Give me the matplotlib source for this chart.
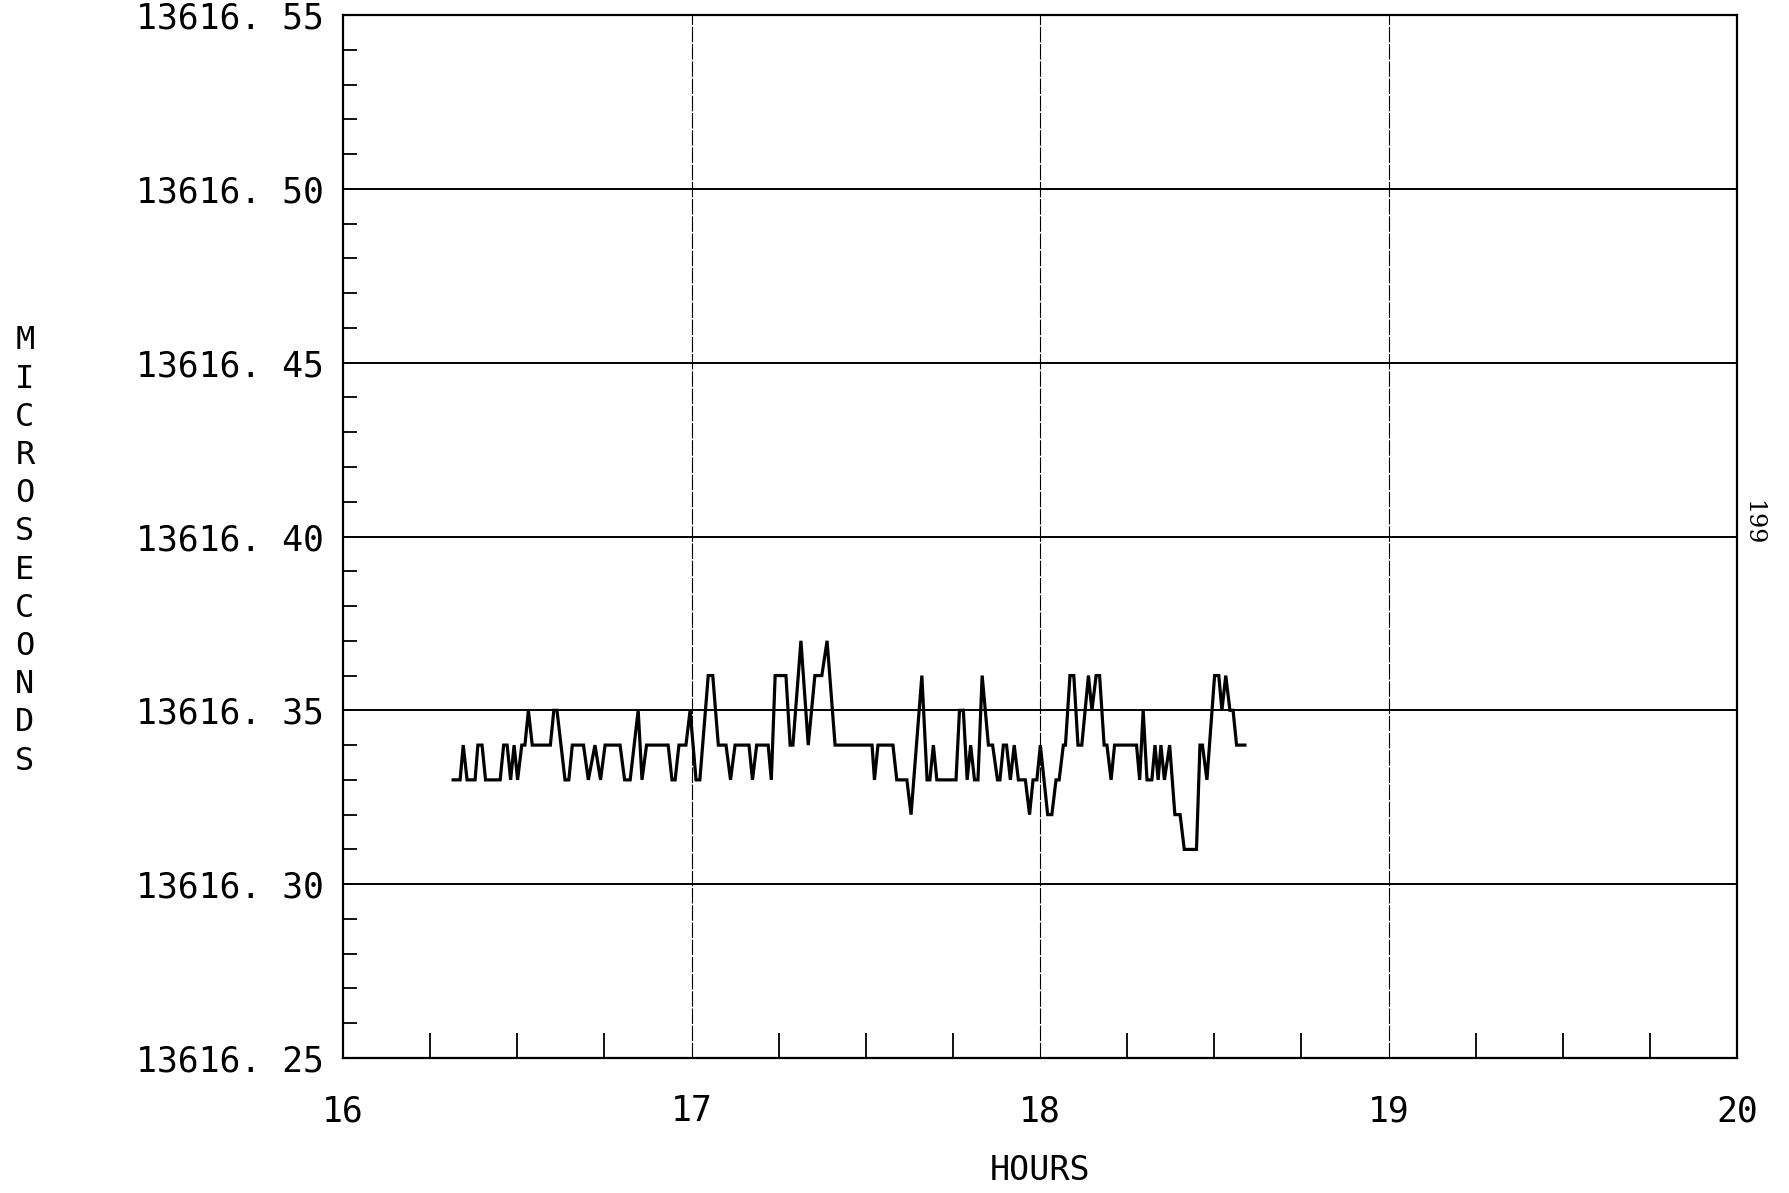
import numpy as np
import matplotlib
matplotlib.use("Agg")
from matplotlib import pyplot as plt
from matplotlib.ticker import MultipleLocator

# traced vertices of the record (hours, microseconds)
hours = [16.316, 16.336, 16.345, 16.356, 16.379, 16.387, 16.399, 16.409, 16.451, 16.461,
         16.471, 16.481, 16.491, 16.501, 16.513, 16.522, 16.532, 16.543, 16.595, 16.605,
         16.614, 16.637, 16.648, 16.658, 16.690, 16.704, 16.723, 16.739, 16.752, 16.795,
         16.808, 16.824, 16.847, 16.858, 16.871, 16.933, 16.944, 16.953, 16.964, 16.984,
         16.996, 17.013, 17.024, 17.048, 17.061, 17.077, 17.099, 17.112, 17.125, 17.165,
         17.175, 17.187, 17.220, 17.229, 17.240, 17.271, 17.283, 17.291, 17.314, 17.335,
         17.354, 17.374, 17.389, 17.412, 17.518, 17.525, 17.535, 17.578, 17.589, 17.618,
         17.630, 17.661, 17.676, 17.684, 17.694, 17.704, 17.759, 17.769, 17.780, 17.791,
         17.801, 17.812, 17.822, 17.834, 17.852, 17.864, 17.878, 17.885, 17.895, 17.904,
         17.915, 17.926, 17.938, 17.958, 17.970, 17.980, 17.991, 18.001, 18.022, 18.034,
         18.046, 18.055, 18.067, 18.073, 18.086, 18.097, 18.109, 18.120, 18.139, 18.149,
         18.161, 18.171, 18.184, 18.192, 18.204, 18.214, 18.277, 18.286, 18.296, 18.307,
         18.321, 18.330, 18.339, 18.347, 18.357, 18.372, 18.387, 18.402, 18.414, 18.449,
         18.459, 18.466, 18.479, 18.501, 18.513, 18.522, 18.533, 18.545, 18.554, 18.564,
         18.588]

micros = [13616.33, 13616.33, 13616.34, 13616.33, 13616.33, 13616.34, 13616.34, 13616.33, 13616.33, 13616.34,
          13616.34, 13616.33, 13616.34, 13616.33, 13616.34, 13616.34, 13616.35, 13616.34, 13616.34, 13616.35,
          13616.35, 13616.33, 13616.33, 13616.34, 13616.34, 13616.33, 13616.34, 13616.33, 13616.34, 13616.34,
          13616.33, 13616.33, 13616.35, 13616.33, 13616.34, 13616.34, 13616.33, 13616.33, 13616.34, 13616.34,
          13616.35, 13616.33, 13616.33, 13616.36, 13616.36, 13616.34, 13616.34, 13616.33, 13616.34, 13616.34,
          13616.33, 13616.34, 13616.34, 13616.33, 13616.36, 13616.36, 13616.34, 13616.34, 13616.37, 13616.34,
          13616.36, 13616.36, 13616.37, 13616.34, 13616.34, 13616.33, 13616.34, 13616.34, 13616.33, 13616.33,
          13616.32, 13616.36, 13616.33, 13616.33, 13616.34, 13616.33, 13616.33, 13616.35, 13616.35, 13616.33,
          13616.34, 13616.33, 13616.33, 13616.36, 13616.34, 13616.34, 13616.33, 13616.33, 13616.34, 13616.34,
          13616.33, 13616.34, 13616.33, 13616.33, 13616.32, 13616.33, 13616.33, 13616.34, 13616.32, 13616.32,
          13616.33, 13616.33, 13616.34, 13616.34, 13616.36, 13616.36, 13616.34, 13616.34, 13616.36, 13616.35,
          13616.36, 13616.36, 13616.34, 13616.34, 13616.33, 13616.34, 13616.34, 13616.33, 13616.35, 13616.33,
          13616.33, 13616.34, 13616.33, 13616.34, 13616.33, 13616.34, 13616.32, 13616.32, 13616.31, 13616.31,
          13616.34, 13616.34, 13616.33, 13616.36, 13616.36, 13616.35, 13616.36, 13616.35, 13616.35, 13616.34,
          13616.34]

x_ticks = [16, 17, 18, 19, 20]
y_ticks = [13616.25, 13616.30, 13616.35, 13616.40, 13616.45, 13616.50, 13616.55]
y_labels = ['13616. 25', '13616. 30', '13616. 35', '13616. 40', '13616. 45', '13616. 50', '13616. 55']

plt.rcParams['font.family'] = ['DejaVu Sans Mono', 'DejaVu Sans']

fig = plt.figure(figsize=(17.9, 11.93), dpi=100)
ax = fig.add_axes([343 / 1790, 1 - 1058 / 1193, (1737 - 343) / 1790, (1058 - 15) / 1193])

ax.plot(hours, micros, color='black', lw=2.3, solid_joinstyle='miter')

ax.set_xlim(16, 20)
ax.set_ylim(13616.25, 13616.55)
ax.set_xticks(x_ticks)
ax.set_yticks(y_ticks)
ax.set_yticklabels(y_labels)
ax.xaxis.set_minor_locator(MultipleLocator(0.25))
ax.yaxis.set_minor_locator(MultipleLocator(0.01))

# grid: solid horizontals, thin broken verticals
for v in y_ticks[1:-1]:
    ax.axhline(v, color='black', lw=1.4)
for h in x_ticks[1:-1]:
    ax.axvline(h, color='black', lw=0.8, dashes=(14, 1.5))

ax.tick_params(axis='both', which='major', length=0, labelsize=25)
ax.tick_params(axis='y', which='major', pad=14)
ax.tick_params(axis='x', which='major', pad=26)
ax.tick_params(axis='x', which='minor', direction='in', length=18, width=1.3)
ax.tick_params(axis='y', which='minor', direction='in', length=10, width=1.3)
for s in ax.spines.values():
    s.set_linewidth(1.6)

fig.text(1040 / 1790, 1 - 1170 / 1193, 'HOURS', ha='center', va='center', fontsize=24)
fig.text(25 / 1790, 1 - 551 / 1193, '\n'.join('MICROSECONDS'), ha='center', va='center',
         fontsize=23, linespacing=1.3)
fig.text(1753 / 1790, 1 - 523 / 1193, '199', rotation=-90, ha='center', va='center',
         fontsize=17, family='DejaVu Serif')

fig.savefig('out.png', dpi=100, facecolor='white')
